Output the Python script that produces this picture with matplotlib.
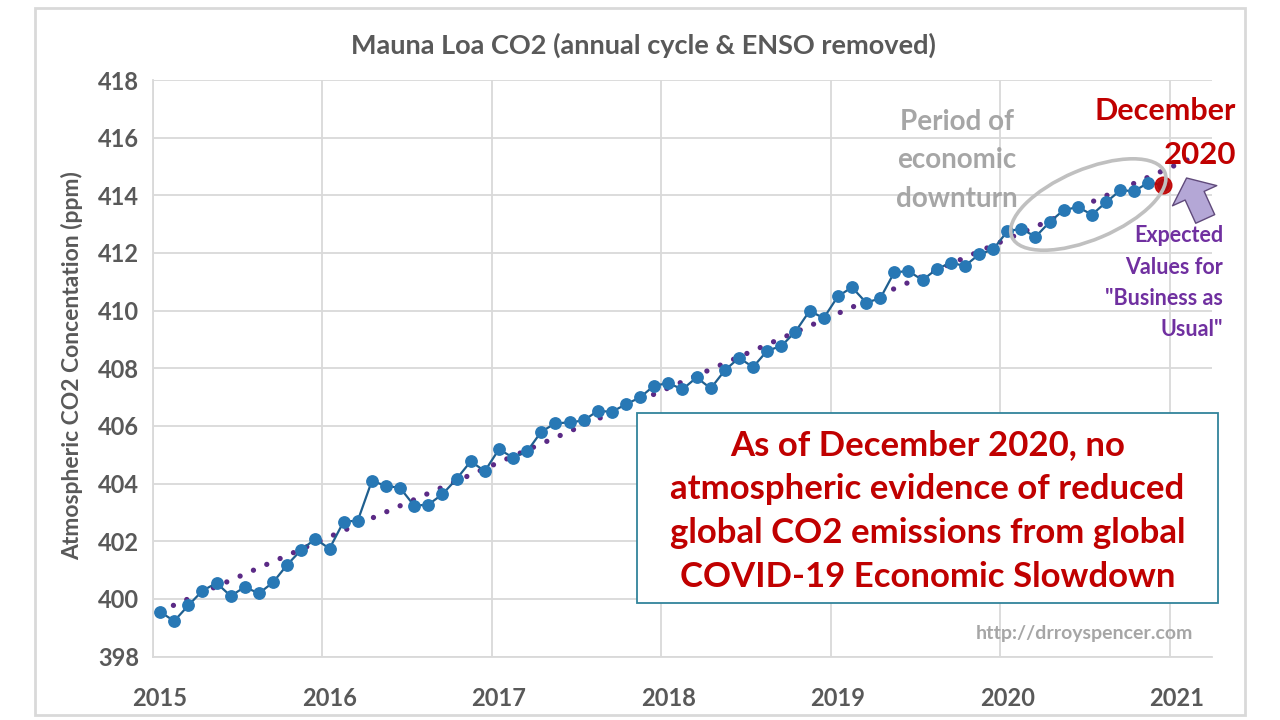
import numpy as np
import matplotlib
matplotlib.use("Agg")
import matplotlib.pyplot as plt
from matplotlib.patches import Rectangle, Ellipse
from matplotlib.transforms import IdentityTransform

plt.rcParams['font.family'] = ['Lato', 'DejaVu Sans']

# monthly CO2 (ppm), Jan 2015 .. Dec 2020, annual cycle & ENSO removed
co2 = [
    399.55, 399.23, 399.77, 400.28, 400.55, 400.10, 400.41, 400.19, 400.57, 401.18, 401.70, 402.08,
    401.74, 402.68, 402.71, 404.09, 403.92, 403.85, 403.23, 403.27, 403.63, 404.16, 404.77, 404.43,
    405.19, 404.90, 405.12, 405.80, 406.09, 406.12, 406.19, 406.52, 406.49, 406.75, 406.99, 407.40,
    407.48, 407.27, 407.68, 407.30, 407.93, 408.36, 408.04, 408.61, 408.77, 409.27, 409.99, 409.74,
    410.49, 410.81, 410.28, 410.42, 411.33, 411.37, 411.06, 411.44, 411.66, 411.55, 411.95, 412.12,
    412.75, 412.84, 412.56, 413.07, 413.49, 413.59, 413.33, 413.76, 414.17, 414.15, 414.44, 414.36,
]
start_year = 2015
years = [2015, 2016, 2017, 2018, 2019, 2020, 2021]
yticks = [398, 400, 402, 404, 406, 408, 410, 412, 414, 416, 418]

t = start_year + (np.arange(len(co2)) + 0.5) / 12.0
co2 = np.array(co2)

grey = '#595959'
W, H = 1280, 720

fig = plt.figure(figsize=(12.8, 7.2), dpi=100)
ax = fig.add_axes([153 / W, 1 - 656.5 / H, (1212 - 153) / W, (656.5 - 80) / H])
ax.set_xlim(2015, 2021.25)
ax.set_ylim(398, 418)

# trend line (linear fit, extended a little)
p = np.polyfit(t, co2, 1)
tt = np.array([t[0], 2021.12])
ax.plot(tt, np.polyval(p, tt), color='#5b2a86', lw=3.8, linestyle=(0, (0.01, 2.75)),
        dash_capstyle='round', zorder=2)

ax.plot(t, co2, color='#1f5f8f', lw=1.6, marker='o', markersize=8.2,
        markerfacecolor='#2878b5', markeredgecolor='#2878b5', zorder=3)
ax.plot(t[-1], co2[-1], 'o', markersize=12, color='#c00000', alpha=0.9, zorder=4)

ax.set_xticks(years)
ax.set_xticklabels([])
ax.set_xticks([y + 0.5 / 12 for y in years], minor=True)
ax.set_xticklabels([str(y) for y in years], minor=True)
ax.set_yticks(yticks)
ax.set_yticklabels([str(v) for v in yticks])
ax.tick_params(which='both', length=0)
ax.tick_params(axis='x', which='minor', pad=22, labelsize=17, labelcolor=grey)
ax.tick_params(axis='y', pad=10, labelsize=17, labelcolor=grey)
for lab in ax.get_xticklabels(minor=True) + ax.get_yticklabels():
    lab.set_fontweight('bold')
ax.grid(True, which='major', color='#d9d9d9', lw=1.3)
ax.set_axisbelow(True)
for s in ['top', 'right']:
    ax.spines[s].set_visible(False)
for s in ['left', 'bottom']:
    ax.spines[s].set_color('#d9d9d9')
    ax.spines[s].set_linewidth(1.3)

# ellipse around the downturn period
fig.canvas.draw()
cx, cy = ax.transData.transform((2020.52, 413.68))
ax.add_patch(Ellipse((cx, cy), 166, 70, angle=23, transform=IdentityTransform(),
                     fill=False, edgecolor='#c0c0c0', lw=2.6, zorder=5))

# arrow pointing at the expected value
ax.annotate('', xy=(2021.10, 414.60), xytext=(2021.21, 413.18),
            arrowprops=dict(arrowstyle='simple,head_length=0.7,head_width=1.75,tail_width=0.75',
                            mutation_scale=20, fc='#b4a7d6', ec='#604a7b', lw=1,
                            shrinkA=0, shrinkB=0),
            annotation_clip=False, zorder=6)

# title and y label
fig.text(643 / W, 1 - 45 / H, 'Mauna Loa CO2 (annual cycle & ENSO removed)',
         ha='center', va='center', fontsize=19.5, fontweight='bold', color=grey)
fig.text(72 / W, 1 - 366 / H, 'Atmospheric CO2 Concentation (ppm)', rotation=90,
         ha='center', va='center', fontsize=16.5, fontweight='bold', color=grey)

# annotations
fig.text(1236 / W, 1 - 111 / H, 'December', ha='right', va='center',
         fontsize=22, fontweight='bold', color='#c00000')
fig.text(1236 / W, 1 - 155 / H, '2020', ha='right', va='center',
         fontsize=22.5, fontweight='bold', color='#c00000')
for i, s in enumerate(['Period of', 'economic', 'downturn']):
    fig.text(957 / W, 1 - (122 + 38.5 * i) / H, s, ha='center', va='center',
             fontsize=20, fontweight='bold', color='#a6a6a6')
for i, s in enumerate(['Expected', 'Values for', '"Business as', 'Usual"']):
    fig.text(1223 / W, 1 - (236 + 31.3 * i) / H, s, ha='right', va='center',
             fontsize=15.5, fontweight='bold', color='#7030a0')

# message box
fig.patches.append(Rectangle((637 / W, 1 - 603 / H), 581 / W, 190 / H, transform=fig.transFigure,
                             facecolor='white', edgecolor='#31849b', lw=1.3, zorder=10))
msg = ['As of December 2020, no', 'atmospheric evidence of reduced',
       'global CO2 emissions from global', 'COVID-19 Economic Slowdown']
for i, s in enumerate(msg):
    fig.text(927.5 / W, 1 - (445 + 44 * i) / H, s, ha='center', va='center',
             fontsize=25, fontweight='bold', color='#c00000', zorder=11)

fig.text(1193 / W, 1 - 633 / H, 'http://drroyspencer.com', ha='right', va='center',
         fontsize=14, fontweight='bold', color='#a6a6a6')

# outer chart frame
fig.patches.append(Rectangle((35 / W, 1 - 715 / H), 1210 / W, 707 / H, transform=fig.transFigure,
                             fill=False, edgecolor='#d9d9d9', lw=2))

fig.savefig('out.png', dpi=100)
